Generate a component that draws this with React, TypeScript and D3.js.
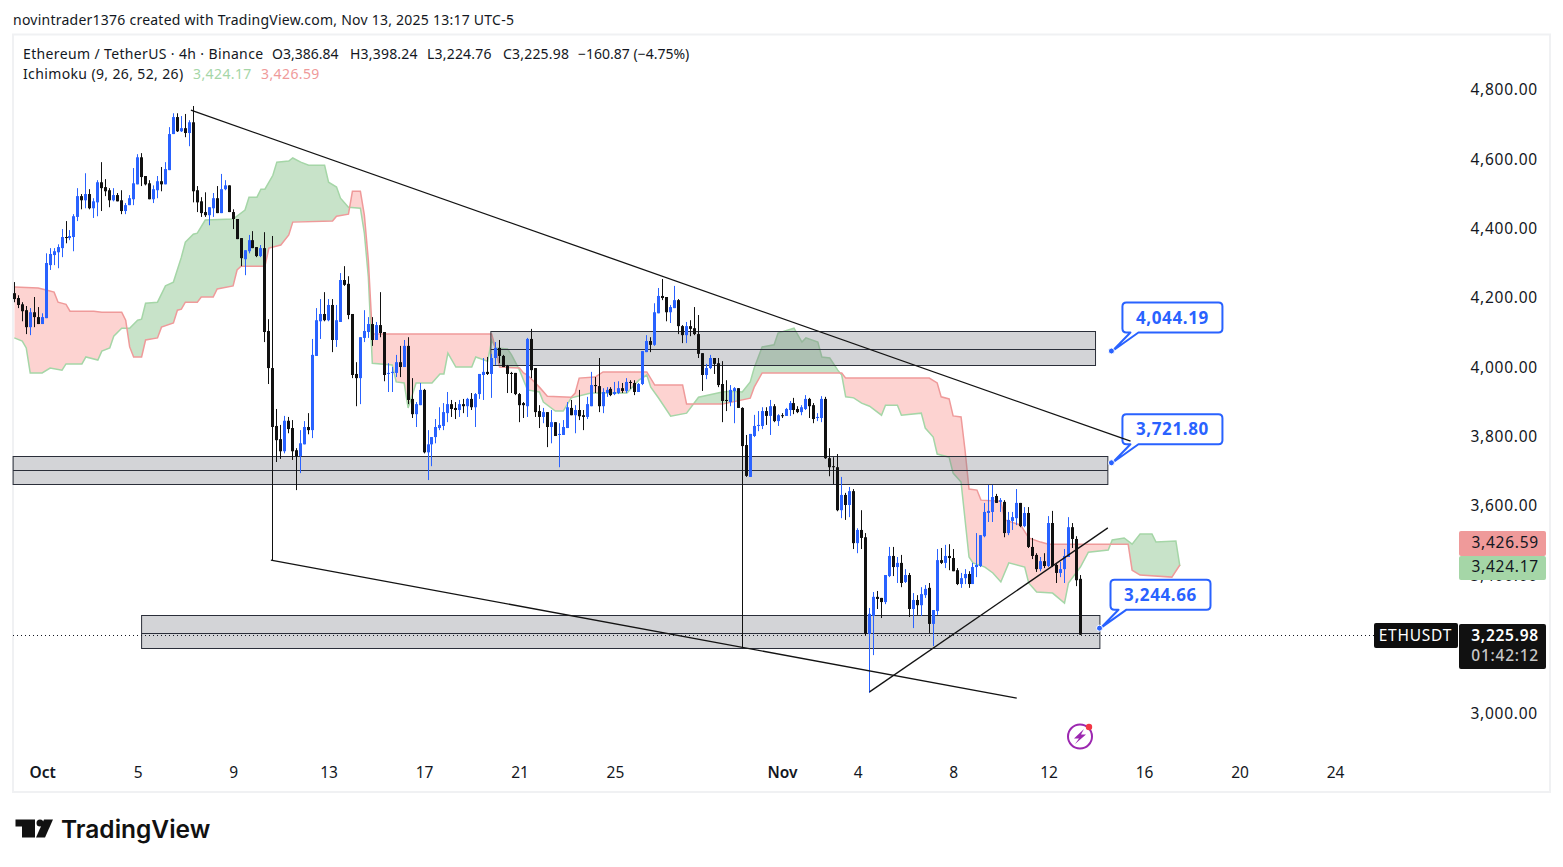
import { useEffect, useRef } from 'react';
import * as d3 from 'd3';

// 4h bars: [open, high, low, close]
const ohlc: [number, number, number, number][] = [
  [4211,4243,4185,4194],[4197,4205,4168,4177],[4179,4185,4130,4159],[4162,4174,4093,4113],[4113,4168,4090,4156],
  [4156,4200,4113,4142],[4142,4171,4122,4122],[4122,4153,4122,4142],[4139,4326,4139,4298],[4292,4341,4278,4324],
  [4321,4341,4292,4332],[4329,4352,4283,4344],[4341,4396,4315,4373],[4373,4419,4355,4370],[4370,4393,4364,4376],
  [4373,4439,4332,4433],[4431,4514,4419,4491],[4491,4497,4453,4479],[4479,4557,4456,4497],[4497,4511,4453,4456],
  [4456,4485,4428,4476],[4473,4537,4433,4531],[4531,4589,4448,4514],[4517,4540,4491,4505],[4508,4514,4459,4479],
  [4479,4514,4476,4494],[4494,4500,4476,4476],[4479,4508,4439,4448],[4448,4471,4439,4465],[4465,4494,4465,4485],
  [4482,4572,4465,4528],[4525,4612,4525,4603],[4603,4615,4520,4546],[4549,4549,4522,4525],[4528,4537,4482,4482],
  [4482,4522,4471,4511],[4508,4549,4485,4534],[4534,4575,4505,4525],[4525,4589,4525,4569],[4566,4690,4566,4670],
  [4670,4730,4670,4719],[4719,4730,4676,4678],[4678,4722,4676,4687],[4687,4728,4661,4673],[4673,4710,4635,4704],
  [4704,4751,4473,4505],[4508,4520,4445,4473],[4476,4488,4431,4442],[4445,4502,4431,4436],[4436,4459,4407,4459],
  [4456,4500,4431,4485],[4485,4520,4442,4442],[4442,4555,4442,4511],[4511,4537,4508,4522],[4522,4522,4445,4445],
  [4445,4453,4396,4425],[4425,4425,4367,4367],[4370,4370,4289,4312],[4309,4335,4263,4335],[4332,4379,4326,4364],
  [4364,4390,4341,4341],[4344,4344,4315,4318],[4318,4350,4315,4341],[4341,4387,4070,4099],[4102,4136,3949,3995],
  [3995,4376,3441,3825],[3828,3877,3724,3787],[3790,3831,3733,3755],[3755,3857,3749,3843],[3843,3854,3807,3819],
  [3822,3845,3730,3755],[3758,3764,3643,3741],[3741,3816,3692,3778],[3775,3842,3775,3825],[3825,3865,3804,3816],
  [3816,4079,3793,4033],[4030,4168,4030,4133],[4130,4194,4079,4151],[4151,4214,4130,4133],[4133,4194,4130,4177],
  [4177,4194,4041,4076],[4076,4177,4056,4133],[4128,4269,4128,4249],[4249,4289,4232,4235],[4238,4260,4136,4148],
  [4151,4151,3966,3975],[3978,4012,3885,3966],[3966,4084,3891,4084],[4082,4162,4070,4102],[4099,4142,4082,4122],
  [4122,4142,4059,4076],[4076,4128,4076,4119],[4119,4214,4084,4096],[4099,4099,3957,3975],[3978,4009,3926,3981],
  [3981,3998,3926,3984],[3981,4033,3969,4012],[4012,4059,3969,3998],[3998,4076,3998,4059],[4059,4084,3891,3903],
  [3906,3966,3851,3862],[3862,3897,3825,3891],[3888,3952,3888,3932],[3932,3935,3749,3752],[3752,3816,3672,3775],
  [3775,3796,3712,3796],[3796,3848,3778,3825],[3822,3882,3816,3831],[3828,3894,3816,3868],[3865,3926,3839,3891],
  [3891,3903,3854,3877],[3880,3897,3848,3874],[3874,3903,3854,3891],[3891,3906,3865,3885],[3885,3909,3854,3906],
  [3906,3923,3874,3882],[3882,3923,3825,3920],[3920,3978,3906,3978],[3975,4024,3903,3984],[3984,4027,3975,3978],
  [3978,4036,3909,4024],[4024,4070,4004,4053],[4053,4076,4009,4030],[4030,4033,3998,3998],[4001,4004,3923,3978],
  [3981,3984,3923,3978],[3981,3981,3917,3920],[3920,3923,3839,3888],[3894,3897,3851,3888],[3885,4082,3854,4079],
  [4079,4108,3966,3989],[3995,3995,3854,3868],[3871,3888,3822,3854],[3854,3880,3836,3868],[3868,3868,3767,3825],
  [3825,3874,3778,3839],[3839,3839,3799,3799],[3802,3836,3709,3805],[3802,3845,3802,3825],[3822,3897,3822,3882],
  [3880,3903,3859,3859],[3859,3888,3807,3874],[3874,3932,3845,3856],[3859,3874,3816,3854],[3854,3912,3848,3891],
  [3885,3984,3885,3946],[3946,3969,3923,3943],[3943,4024,3868,3885],[3885,3937,3865,3926],[3923,3940,3912,3932],
  [3935,3940,3914,3917],[3920,3955,3917,3926],[3923,3957,3920,3937],[3937,3952,3923,3929],[3929,3966,3923,3955],
  [3955,3960,3935,3952],[3952,3960,3917,3926],[3926,3952,3926,3949],[3949,4044,3946,4044],[4041,4090,4041,4073],
  [4073,4084,4041,4062],[4062,4182,4059,4156],[4153,4226,4153,4203],[4203,4252,4191,4197],[4200,4200,4130,4156],
  [4156,4177,4125,4171],[4168,4232,4168,4191],[4191,4194,4093,4116],[4116,4119,4067,4090],[4090,4128,4067,4116],
  [4116,4133,4087,4108],[4110,4171,4090,4093],[4093,4148,4024,4036],[4038,4038,3929,3975],[3975,4007,3963,3995],
  [3995,4033,3992,4024],[4024,4024,3978,4007],[4009,4024,3940,3946],[3949,4015,3839,3900],[3903,3960,3871,3900],
  [3897,3946,3885,3932],[3929,3940,3836,3937],[3937,3937,3880,3880],[3880,3882,3187,3770],[3773,3802,3681,3684],
  [3681,3805,3681,3805],[3799,3860,3796,3828],[3828,3871,3813,3831],[3828,3882,3819,3871],[3871,3882,3831,3857],
  [3857,3903,3802,3885],[3885,3891,3839,3842],[3842,3862,3828,3859],[3859,3865,3851,3857],[3857,3880,3857,3877],
  [3874,3900,3857,3894],[3894,3909,3862,3874],[3877,3885,3865,3868],[3868,3888,3859,3882],[3877,3917,3874,3906],
  [3906,3909,3851,3885],[3888,3894,3836,3848],[3851,3865,3842,3854],[3851,3914,3839,3906],[3906,3912,3733,3735],
  [3735,3764,3683,3709],[3712,3738,3660,3709],[3709,3747,3582,3585],[3585,3681,3562,3629],[3629,3635,3557,3600],
  [3600,3652,3565,3640],[3640,3646,3473,3490],[3490,3533,3461,3528],[3528,3585,3473,3505],[3507,3519,3225,3228],
  [3228,3303,3058,3286],[3280,3349,3167,3335],[3335,3352,3300,3329],[3332,3332,3274,3320],[3320,3398,3314,3398],
  [3395,3479,3392,3453],[3453,3479,3395,3421],[3421,3450,3375,3433],[3433,3456,3363,3375],[3378,3415,3375,3398],
  [3398,3404,3277,3300],[3300,3346,3245,3326],[3326,3340,3283,3311],[3311,3363,3280,3343],[3340,3369,3332,3358],
  [3361,3375,3231,3257],[3257,3297,3193,3297],[3294,3473,3283,3441],[3441,3476,3430,3433],[3433,3485,3418,3453],
  [3453,3487,3412,3447],[3447,3473,3409,3409],[3412,3418,3369,3372],[3372,3404,3361,3389],[3389,3415,3372,3401],
  [3401,3409,3361,3372],[3372,3433,3372,3421],[3421,3519,3392,3427],[3424,3513,3421,3513],[3510,3606,3507,3580],
  [3577,3658,3551,3583],[3580,3658,3551,3623],[3626,3632,3606,3606],[3609,3620,3580,3614],[3609,3614,3507,3519],
  [3519,3580,3513,3557],[3554,3580,3528,3565],[3562,3646,3542,3606],[3606,3606,3536,3539],[3539,3594,3536,3577],
  [3577,3594,3476,3479],[3479,3505,3444,3453],[3456,3461,3407,3415],[3415,3450,3409,3438],[3438,3461,3418,3424],
  [3424,3568,3421,3548],[3548,3583,3421,3424],[3427,3430,3375,3404],[3404,3436,3392,3415],[3415,3473,3375,3453],
  [3450,3565,3450,3536],[3536,3548,3476,3502],[3502,3510,3366,3383],[3387,3398,3225,3226],
];

// Ichimoku leading spans: [bar, price]
const spanA: [number, number][] = [
  [0,4082],[2,4073],[3,4053],[4,3981],[7,3981],[9,3995],[12,3989],[13,4007],[17,4007],[18,4027],[21,4018],[22,4044],
  [24,4053],[25,4087],[27,4110],[29,4110],[31,4133],[32,4136],[33,4182],[36,4185],[38,4232],[40,4243],[42,4315],[43,4358],
  [45,4381],[46,4384],[48,4422],[55,4425],[58,4451],[59,4488],[61,4488],[62,4511],[63,4511],[65,4551],[66,4589],[69,4592],
  [70,4601],[72,4589],[74,4580],[78,4580],[79,4531],[81,4517],[82,4485],[84,4459],[87,4456],[88,4384],[89,4258],[90,4009],
  [95,4004],[96,3955],[98,3952],[99,3880],[101,3952],[105,3952],[107,3978],[108,3978],[109,4038],[111,3998],[115,3998],
  [116,4027],[119,4015],[120,4076],[121,4053],[124,4050],[125,4033],[127,3989],[129,3932],[132,3926],[133,3897],[136,3871],
  [138,3871],[140,3909],[145,3923],[154,3923],[157,3960],[159,3975],[160,3940],[162,3908],[165,3856],[169,3865],[172,3911],
  [178,3926],[180,3928],[183,3926],[185,3955],[186,3995],[188,4056],[191,4062],[192,4096],[196,4110],[198,4070],[199,4082],
  [202,4070],[203,4027],[205,4024],[207,3989],[208,3975],[209,3912],[211,3909],[213,3894],[215,3885],[218,3859],[219,3888],
  [222,3888],[223,3859],[228,3865],[229,3822],[231,3796],[232,3747],[235,3738],[236,3692],[238,3666],[240,3450],[241,3433],
  [244,3421],[246,3404],[248,3378],[250,3433],[254,3421],[255,3375],[257,3349],[261,3346],[264,3317],[265,3375],[268,3421],
  [270,3464],[275,3470],[276,3499],[279,3505],[281,3487],[283,3516],[286,3516],[287,3493],[292,3496],[293,3424],
];
const spanB: [number, number][] = [
  [0,4229],[6,4226],[8,4220],[10,4214],[11,4185],[13,4179],[14,4159],[20,4159],[22,4156],[27,4156],[28,4133],[29,4056],
  [30,4027],[32,4027],[33,4076],[36,4082],[37,4113],[40,4125],[41,4162],[42,4165],[43,4185],[46,4185],[47,4200],[50,4200],
  [51,4223],[55,4232],[56,4278],[57,4289],[63,4289],[64,4341],[67,4350],[69,4379],[70,4416],[80,4419],[81,4433],[84,4439],
  [85,4505],[87,4505],[88,4436],[89,4306],[90,4093],[120,4093],[121,4050],[122,3998],[127,3995],[128,3981],[129,3975],
  [132,3940],[134,3914],[140,3911],[141,3923],[142,3966],[146,3969],[148,3984],[159,3984],[161,3946],[168,3946],[169,3891],
  [178,3891],[185,3908],[186,3940],[188,3981],[208,3981],[209,3966],[230,3966],[232,3952],[233,3912],[235,3906],[236,3857],
  [238,3854],[239,3758],[240,3646],[242,3643],[243,3614],[248,3611],[249,3557],[253,3542],[255,3505],[258,3493],[260,3487],
  [280,3487],[281,3412],[283,3398],[291,3392],[293,3427],
];

// Grey zones: [first bar, last bar, top, middle, bottom]
const zones: [number, number, number, number, number][] = [
  [119.8, 271.8, 4102, 4051, 4003],
  [-0.3, 274.9, 3740, 3700, 3660],
  [32, 272.9, 3282, 3232, 3187],
];
// Trend lines: [bar, price, bar, price]
const trendLines: [number, number, number, number][] = [
  [44.4, 4739, 280.6, 3784],
  [64.5, 3441, 252, 3043],
  [215, 3061, 274.9, 3534],
];
const callouts: [number, number][] = [
  [275.8, 4044.19],
  [275.8, 3721.8],
  [272.8, 3244.66],
];

const priceTicks = [3000, 3400, 3600, 3800, 4000, 4200, 4400, 4600, 4800];
const dateTickBars = [7, 31, 55, 79, 103, 127, 151, 193, 212, 236, 260, 284, 308, 332];
const dateTickLabels = ['Oct', '5', '9', '13', '17', '21', '25', 'Nov', '4', '8', '12', '16', '20', '24'];
const lastClose = 3225.98;
const lastSpanA = 3424.17;
const lastSpanB = 3426.59;

const FONT = '"Noto Sans", sans-serif';
const INK = '#131722';
const UP = '#2962ff';
const DOWN = '#111111';

export default function App() {
  const svgRef = useRef<SVGSVGElement>(null);

  useEffect(() => {
    if (!svgRef.current) return;
    const svg = d3.select(svgRef.current);
    svg.selectAll('*').remove();

    const x = d3.scaleLinear().domain([0, 268]).range([14.3, 14.3 + 3.978 * 268]);
    const y = d3.scaleLinear().domain([3000, 4800]).range([713, 89]);
    const line = d3.line<[number, number]>().x(d => x(d[0])).y(d => y(d[1]));

    // Chart frame
    svg.append('rect')
      .attr('x', 13).attr('y', 34.5).attr('width', 1537).attr('height', 757.5)
      .attr('fill', '#fff').attr('stroke', '#f0f1f3').attr('stroke-width', 2);

    svg.append('text')
      .attr('x', 13).attr('y', 25)
      .attr('fill', INK).attr('font-size', 14).attr('font-family', FONT).attr('letter-spacing', 0.24)
      .text('novintrader1376 created with TradingView.com, Nov 13, 2025 13:17 UTC-5');

    // Cloud: the polygon between both spans, clipped on either side of span B
    const defs = svg.append('defs');
    const bOpen = line(spanB)!.slice(1);
    defs.append('clipPath').attr('id', 'above-b').append('path')
      .attr('d', `M${x(0)},0L${bOpen}L${x(293)},0Z`);
    defs.append('clipPath').attr('id', 'below-b').append('path')
      .attr('d', `M${x(0)},867L${bOpen}L${x(293)},867Z`);
    const cloud = line([...spanA, ...spanB.slice().reverse()])! + 'Z';
    svg.append('path').attr('d', cloud).attr('fill', '#c8e3c9').attr('clip-path', 'url(#above-b)');
    svg.append('path').attr('d', cloud).attr('fill', '#fdd3d1').attr('clip-path', 'url(#below-b)');
    svg.append('path').attr('d', line(spanA)).attr('fill', 'none').attr('stroke', '#a5d6a7').attr('stroke-width', 1.5);
    svg.append('path').attr('d', line(spanB)).attr('fill', 'none').attr('stroke', '#ef9a9a').attr('stroke-width', 1.5);

    // Zones
    const zone = svg.append('g');
    zones.forEach(([b0, b1, top, mid, bottom]) => {
      zone.append('rect')
        .attr('x', x(b0)).attr('y', Math.round(y(top)) + 0.5)
        .attr('width', x(b1) - x(b0)).attr('height', Math.round(y(bottom)) - Math.round(y(top)))
        .attr('fill', '#787b86').attr('fill-opacity', 0.33)
        .attr('stroke', '#2a2e39').attr('stroke-width', 1);
      zone.append('line')
        .attr('x1', x(b0)).attr('x2', x(b1))
        .attr('y1', Math.round(y(mid)) + 0.5).attr('y2', Math.round(y(mid)) + 0.5)
        .attr('stroke', '#2a2e39').attr('stroke-width', 1);
    });

    // Last price line
    svg.append('line')
      .attr('x1', 13).attr('x2', 1374)
      .attr('y1', Math.round(y(lastClose)) + 0.5).attr('y2', Math.round(y(lastClose)) + 0.5)
      .attr('stroke', INK).attr('stroke-width', 1).attr('stroke-dasharray', '1,3');

    // Candles
    const candles = svg.append('g');
    ohlc.forEach(([o, h, l, c], i) => {
      const px = Math.round(x(i) - 0.5);
      const color = c >= o ? UP : DOWN;
      candles.append('rect')
        .attr('x', px).attr('width', 1)
        .attr('y', y(h)).attr('height', y(l) - y(h))
        .attr('fill', color);
      candles.append('rect')
        .attr('x', px - 1).attr('width', 3)
        .attr('y', y(Math.max(o, c))).attr('height', Math.max(1, Math.abs(y(o) - y(c))))
        .attr('fill', color);
    });

    // Callouts
    callouts.forEach(([bar, price]) => {
      const ax = x(bar);
      const ay = y(price);
      const x0 = ax + 11, x1 = ax + 111, y0 = ay - 48.5, y1 = ay - 18.5, r = 4;
      svg.append('path')
        .attr('d', `M${x0 + r},${y0}H${x1 - r}Q${x1},${y0} ${x1},${y0 + r}V${y1 - r}Q${x1},${y1} ${x1 - r},${y1}`
          + `H${ax + 27}L${ax + 1},${ay}L${ax + 19},${y1}H${x0 + r}Q${x0},${y1} ${x0},${y1 - r}V${y0 + r}Q${x0},${y0} ${x0 + r},${y0}Z`)
        .attr('fill', '#fff').attr('stroke', UP).attr('stroke-width', 2).attr('stroke-linejoin', 'round');
      svg.append('text')
        .attr('x', (x0 + x1) / 2).attr('y', y0 + 21)
        .attr('text-anchor', 'middle')
        .attr('fill', UP).attr('font-size', 17).attr('font-weight', 700).attr('font-family', FONT)
        .attr('letter-spacing', 0.6)
        .text(d3.format(',.2f')(price));
      svg.append('circle')
        .attr('cx', ax).attr('cy', ay).attr('r', 3)
        .attr('fill', UP).attr('stroke', '#fff').attr('stroke-width', 1);
    });

    // Trend lines
    trendLines.forEach(([b0, p0, b1, p1]) => {
      svg.append('line')
        .attr('x1', x(b0)).attr('y1', y(p0)).attr('x2', x(b1)).attr('y2', y(p1))
        .attr('stroke', '#131313').attr('stroke-width', 1.3);
    });

    // Price axis
    const yAxis = svg.append('g')
      .attr('transform', 'translate(1538,1)')
      .call(d3.axisLeft(y).tickValues(priceTicks).tickSize(0).tickPadding(0).tickFormat(d => d3.format(',.2f')(d as number)));
    yAxis.select('.domain').remove();
    yAxis.selectAll('text')
      .attr('fill', INK).attr('font-size', 15.5).attr('font-family', FONT).attr('letter-spacing', 0.75);

    // Time axis
    const xAxis = svg.append('g')
      .attr('transform', 'translate(0,767)')
      .call(d3.axisBottom(x).tickValues(dateTickBars).tickSize(0).tickPadding(0)
        .tickFormat(d => dateTickLabels[dateTickBars.indexOf(d as number)]));
    xAxis.select('.domain').remove();
    xAxis.selectAll('text')
      .attr('fill', INK).attr('font-size', 15.5).attr('font-family', FONT)
      .attr('font-weight', (_d, i) => (dateTickLabels[i] === 'Oct' || dateTickLabels[i] === 'Nov' ? 600 : 400));

    // Legend
    const legend = (tx: number, ty: number, s: string, fill: string = INK, spacing = 0) => {
      svg.append('text')
        .attr('x', tx).attr('y', ty)
        .attr('fill', fill).attr('font-size', 14).attr('font-family', FONT).attr('letter-spacing', spacing)
        .text(s);
    };
    legend(23, 59, 'Ethereum / TetherUS · 4h · Binance', INK, 0.36);
    legend(272, 59, 'O3,386.84');
    legend(350, 59, 'H3,398.24', INK, 0.2);
    legend(427, 59, 'L3,224.76', INK, 0.2);
    legend(503, 59, 'C3,225.98', INK, 0.2);
    legend(578, 59, '−160.87 (−4.75%)');
    legend(23, 79, 'Ichimoku (9, 26, 52, 26)', INK, 0.37);
    legend(193, 79, d3.format(',.2f')(lastSpanA), '#a5d6a7', 0.4);
    legend(261, 79, d3.format(',.2f')(lastSpanB), '#ef9a9a', 0.4);

    // Price badges
    const badge = (px: number, py: number, w: number, h: number, fill: string) =>
      svg.append('rect').attr('x', px).attr('y', py).attr('width', w).attr('height', h).attr('rx', 2).attr('fill', fill);
    const badgeText = (right: number, base: number, s: string, fill: string, weight = 400) =>
      svg.append('text')
        .attr('x', right).attr('y', base).attr('text-anchor', 'end')
        .attr('fill', fill).attr('font-size', 15.5).attr('font-weight', weight).attr('font-family', FONT)
        .attr('letter-spacing', 0.75)
        .text(s);
    badge(1459, 531, 87, 25, '#ef9a9a');
    badge(1459, 556, 87, 24, '#a5d6a7');
    badgeText(1539, 548, d3.format(',.2f')(lastSpanB), INK);
    badgeText(1539, 572, d3.format(',.2f')(lastSpanA), INK);
    badge(1374, 623, 84, 25, '#0e0e0e');
    badge(1459, 624, 87, 45, '#111111');
    badgeText(1452, 641, 'ETHUSDT', '#ffffff');
    badgeText(1539, 641, d3.format(',.2f')(lastClose), '#ffffff', 600);
    badgeText(1539, 661, '01:42:12', '#c8c8c8', 500);

    // Alert icon
    svg.append('circle').attr('cx', 1080).attr('cy', 736.5).attr('r', 12)
      .attr('fill', 'none').attr('stroke', '#9c27b0').attr('stroke-width', 2);
    svg.append('path').attr('d', 'M1084,729L1074,738.5H1079L1075,744L1086,734.5H1081Z').attr('fill', '#9c27b0');
    svg.append('circle').attr('cx', 1089).attr('cy', 727).attr('r', 3.2).attr('fill', '#f23645');

    // Logo
    svg.append('path').attr('d', 'M15.5,819.5H35V837.5H22V826.5H15.5Z').attr('fill', '#111');
    svg.append('circle').attr('cx', 40).attr('cy', 823).attr('r', 3.5).attr('fill', '#111');
    svg.append('path').attr('d', 'M44,819.5H53L45,837.5H36Z').attr('fill', '#111');
    svg.append('text')
      .attr('x', 61).attr('y', 837.5)
      .attr('fill', '#111').attr('font-size', 24.5).attr('font-weight', 600).attr('font-family', 'Inter, sans-serif')
      .text('TradingView');
  }, []);

  return (
    <svg
      ref={svgRef}
      width={1563}
      height={867}
      style={{ position: 'absolute', left: 0, top: 0, display: 'block', background: '#fff' }}
    />
  );
}
